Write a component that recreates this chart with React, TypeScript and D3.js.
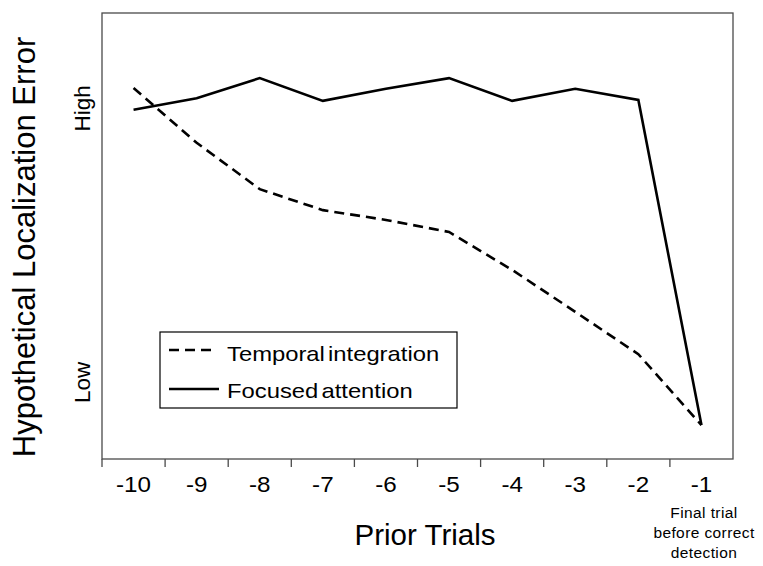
import React from "react";
import * as d3 from "d3";

const categories = ["-10", "-9", "-8", "-7", "-6", "-5", "-4", "-3", "-2", "-1"];
const temporalIntegration = [83.2, 70.9, 60.5, 55.8, 53.6, 50.9, 42.4, 33.0, 23.5, 7.6];
const focusedAttention = [78.3, 80.9, 85.4, 80.3, 83.0, 85.4, 80.3, 83.0, 80.5, 7.6];
const yLabels = [
  { text: "High", value: 78.6 },
  { text: "Low", value: 17.2 },
];
const finalTrialNote = ["Final trial", "before correct", "detection"];

const W = 763;
const H = 566;
const M = { left: 102, right: 733, top: 13, bottom: 459 };
const FONT = "'Liberation Sans', Arial, Helvetica, sans-serif";

export default function App() {
  const x = d3.scaleBand<string>().domain(categories).range([M.left, M.right]).padding(0);
  const y = d3.scaleLinear().domain([0, 100]).range([M.bottom, M.top]);
  const cx = (c: string) => (x(c) as number) + x.bandwidth() / 2;

  const line = d3
    .line<number>()
    .x((_, i) => cx(categories[i]))
    .y((d) => y(d));

  const axisColor = "#4a4a4a";

  return (
    <svg
      width={W}
      height={H}
      style={{ position: "absolute", left: 0, top: 0, background: "#fff" }}
      fontFamily={FONT}
    >
      <rect x={0} y={0} width={W} height={H} fill="#fff" />
      {/* frame */}
      <rect
        x={M.left}
        y={M.top}
        width={M.right - M.left}
        height={M.bottom - M.top}
        fill="none"
        stroke={axisColor}
        strokeWidth={1.3}
      />
      {/* ticks at band boundaries */}
      {categories.map((c) => (
        <line
          key={"t" + c}
          x1={x(c) as number}
          x2={x(c) as number}
          y1={M.bottom}
          y2={M.bottom + 8}
          stroke={axisColor}
          strokeWidth={1.3}
        />
      ))}
      {/* tick labels */}
      {categories.map((c) => (
        <text
          key={"l" + c}
          transform={`translate(${cx(c)}, 492) scale(1.1, 1)`}
          textAnchor="middle"
          fontSize={22}
          fill="#000"
        >
          {c}
        </text>
      ))}
      {/* final trial note */}
      {finalTrialNote.map((t, i) => (
        <text key={"n" + i} x={704} y={518 + i * 20} textAnchor="middle" fontSize={15.5} fill="#000" letterSpacing={0.4}>
          {t}
        </text>
      ))}
      {/* x title */}
      <text x={425} y={545} textAnchor="middle" fontSize={29.5} fill="#000">
        Prior Trials
      </text>
      {/* y title */}
      <text
        transform={`translate(35, 247) rotate(-90)`}
        textAnchor="middle"
        fontSize={31}
        fill="#000"
      >
        Hypothetical Localization Error
      </text>
      {/* High / Low */}
      {yLabels.map((l) => (
        <text
          key={l.text}
          transform={`translate(90, ${y(l.value)}) rotate(-90)`}
          textAnchor="middle"
          fontSize={22.5}
          fill="#000"
        >
          {l.text}
        </text>
      ))}
      {/* series */}
      <path d={line(temporalIntegration) || ""} fill="none" stroke="#000" strokeWidth={2.6} strokeDasharray="10,6" />
      <path d={line(focusedAttention) || ""} fill="none" stroke="#000" strokeWidth={2.6} />
      {/* legend */}
      <rect x={160} y={332} width={297} height={76} fill="#fff" stroke="#000" strokeWidth={1.2} />
      <line x1={169} x2={216} y1={350} y2={350} stroke="#000" strokeWidth={2.6} strokeDasharray="10,6" />
      <line x1={169} x2={219} y1={389} y2={389} stroke="#000" strokeWidth={2.6} />
      <text transform="translate(227, 361) scale(1.15, 1)" fontSize={20.7} fill="#000" wordSpacing={-3}>
        Temporal integration
      </text>
      <text transform="translate(227, 398) scale(1.15, 1)" fontSize={20.7} fill="#000" wordSpacing={-3}>
        Focused attention
      </text>
    </svg>
  );
}
